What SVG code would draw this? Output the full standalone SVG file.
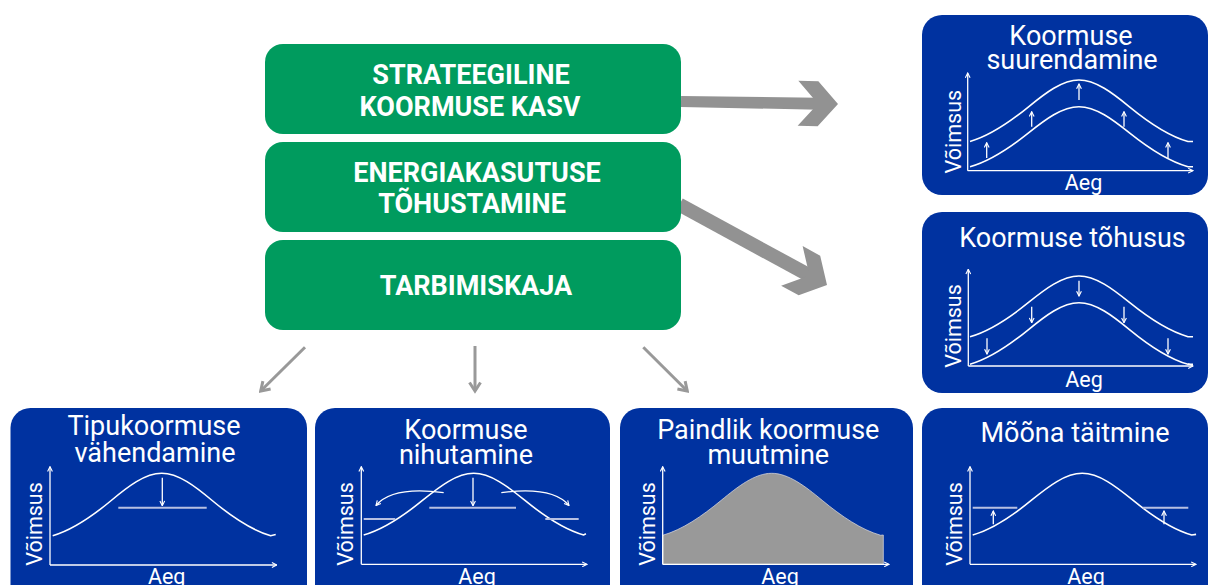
<svg xmlns="http://www.w3.org/2000/svg" width="1209" height="585" viewBox="0 0 1209 585">
<style>
.green{fill:#009b5e}
.blue{fill:#0032a0}
.gt{font-family:Roboto,"Liberation Sans",sans-serif;font-weight:bold;font-size:27px;fill:#fff;text-anchor:middle}
.tt{font-family:Roboto,"Liberation Sans",sans-serif;font-size:27px;fill:#fff;text-anchor:middle}
.ax{font-family:Roboto,"Liberation Sans",sans-serif;font-size:21.5px;fill:#fff;text-anchor:middle}
.axis{stroke:#fff;stroke-width:1.3;fill:none;marker-end:url(#wa)}
.curve{stroke:#fff;stroke-width:1.6;fill:none}
.lvl{stroke:#b7c0e2;stroke-width:2;fill:none}
.sm{stroke:#fff;stroke-width:1.3;fill:none;marker-end:url(#wa)}
.big{fill:#929292}
.thin{stroke:#999;stroke-width:3;fill:none;marker-end:url(#ga)}
</style>
<defs>
<marker id="wa" markerUnits="userSpaceOnUse" viewBox="0 0 6 6" refX="5.4" refY="3" markerWidth="6" markerHeight="6" orient="auto">
<path d="M0.6,0.6 L5.4,3 L0.6,5.4" fill="none" stroke="#fff" stroke-width="1.1"/>
</marker>
<marker id="ga" markerUnits="userSpaceOnUse" viewBox="0 0 14 14" refX="11.5" refY="7" markerWidth="14" markerHeight="14" orient="auto">
<path d="M3,1.5 L11.5,7 L3,12.5" fill="none" stroke="#999" stroke-width="3"/>
</marker>
</defs>

<g id="connectors">
<g transform="translate(838,104) rotate(0.9)">
<polygon class="big" points="-157,-5.5 -19,-6 -19,6 -157,5.5"/>
<polygon class="big" points="-40,-22.5 -20,-22.5 0,0 -20,22.5 -40,22.5 -20,0"/>
</g>
<g transform="translate(827,285) rotate(28.55)">
<polygon class="big" points="-168,-7 -19,-7 -19,7 -168,7"/>
<polygon class="big" points="-40,-22.5 -20,-22.5 0,0 -20,22.5 -40,22.5 -20,0"/>
</g>
<line class="thin" x1="305" y1="347.3" x2="260.7" y2="391"/>
<line class="thin" x1="475" y1="346" x2="475" y2="391"/>
<line class="thin" x1="643.3" y1="347.3" x2="687.3" y2="391"/>
</g>

<g id="n-strat">
<rect class="green" x="265" y="44" width="416" height="90" rx="18"/>
<text class="gt" x="471" y="84">STRATEEGILINE</text>
<text class="gt" x="470" y="116">KOORMUSE KASV</text>
</g>
<g id="n-energia">
<rect class="green" x="265" y="142" width="416" height="90" rx="18"/>
<text class="gt" x="477" y="181.7">ENERGIAKASUTUSE</text>
<text class="gt" x="472" y="213.3">TÕHUSTAMINE</text>
</g>
<g id="n-tarbimis">
<rect class="green" x="265" y="240" width="416" height="90" rx="18"/>
<text class="gt" x="476" y="295">TARBIMISKAJA</text>
</g>

<g id="n-suurendamine">
<rect class="blue" x="922" y="15" width="286" height="180" rx="20"/>
<text class="tt" x="1071" y="45">Koormuse</text>
<text class="tt" x="1072" y="69">suurendamine</text>
<path class="axis" d="M967.7,170.7 V73"/>
<path class="axis" d="M967.7,170.7 H1193"/>
<path class="curve" vector-effect="non-scaling-stroke" transform="translate(970,166.7) scale(109,-60)" d="M0,0 C.179,.09 .358,.304 .537,.564 C.691,.788 .846,1 1,1 C1.154,1 1.309,.788 1.463,.564 C1.642,.304 1.821,.09 2,0 L2.046,0"/>
<path class="curve" vector-effect="non-scaling-stroke" transform="translate(970,141.5) scale(109,-61.5)" d="M0,0 C.179,.09 .358,.304 .537,.564 C.691,.788 .846,1 1,1 C1.154,1 1.309,.788 1.463,.564 C1.642,.304 1.821,.09 2,0 L2.046,0"/>
<path class="sm" d="M986.7,158 V142.7"/>
<path class="sm" d="M1031.7,126.7 V111.7"/>
<path class="sm" d="M1079,100 V84"/>
<path class="sm" d="M1124,126.7 V111.7"/>
<path class="sm" d="M1168,158 V142.7"/>
<text class="ax" transform="translate(960.5,131.7) rotate(-90)">Võimsus</text>
<text class="ax" x="1083.5" y="190">Aeg</text>
</g>

<g id="n-tohusus">
<rect class="blue" x="922" y="212" width="286" height="181" rx="20"/>
<text class="tt" x="1072.5" y="247">Koormuse tõhusus</text>
<path class="axis" d="M968.3,366 V269.3"/>
<path class="axis" d="M968.3,366 H1193"/>
<path class="curve" vector-effect="non-scaling-stroke" transform="translate(970,336.7) scale(109,-60.7)" d="M0,0 C.179,.09 .358,.304 .537,.564 C.691,.788 .846,1 1,1 C1.154,1 1.309,.788 1.463,.564 C1.642,.304 1.821,.09 2,0 L2.046,0"/>
<path class="curve" vector-effect="non-scaling-stroke" transform="translate(970,364.3) scale(109,-61.6)" d="M0,0 C.179,.09 .358,.304 .537,.564 C.691,.788 .846,1 1,1 C1.154,1 1.309,.788 1.463,.564 C1.642,.304 1.821,.09 2,0 L2.046,0"/>
<path class="sm" d="M987,338.3 V354"/>
<path class="sm" d="M1031.7,306.7 V322.7"/>
<path class="sm" d="M1079,280.7 V296"/>
<path class="sm" d="M1124,306.7 V322.7"/>
<path class="sm" d="M1168,338.3 V354"/>
<text class="ax" transform="translate(960.5,326) rotate(-90)">Võimsus</text>
<text class="ax" x="1084" y="386.5">Aeg</text>
</g>

<g id="n-mona">
<rect class="blue" x="922" y="408" width="286" height="200" rx="20"/>
<text class="tt" x="1075" y="442">Mõõna täitmine</text>
<path class="axis" d="M970,564.3 V466.7"/>
<path class="axis" d="M970,564.3 H1196"/>
<path class="curve" vector-effect="non-scaling-stroke" transform="translate(972.7,535) scale(109.5,-61.7)" d="M0,0 C.179,.09 .358,.304 .537,.564 C.691,.788 .846,1 1,1 C1.154,1 1.309,.788 1.463,.564 C1.642,.304 1.821,.09 2,0 L2.04,0.01"/>
<path class="lvl" d="M972.7,507.7 H1017.3"/>
<path class="lvl" d="M1142.7,507.7 H1188.3"/>
<path class="sm" d="M993.3,524.3 V511"/>
<path class="sm" d="M1164,524.3 V511"/>
<text class="ax" transform="translate(962,524) rotate(-90)">Võimsus</text>
<text class="ax" x="1086" y="584">Aeg</text>
</g>

<g id="n-tipukoormus">
<rect class="blue" x="10.5" y="408" width="296.5" height="200" rx="20"/>
<text class="tt" x="154" y="435">Tipukoormuse</text>
<text class="tt" x="155" y="461.5">vähendamine</text>
<path class="axis" d="M50,565 V466.7"/>
<path class="axis" d="M50,565 H276.7"/>
<path class="curve" vector-effect="non-scaling-stroke" transform="translate(52.7,535.7) scale(109,-62.4)" d="M0,0 C.179,.09 .358,.304 .537,.564 C.691,.788 .846,1 1,1 C1.154,1 1.309,.788 1.463,.564 C1.642,.304 1.821,.09 2,0 L2.046,0.02"/>
<path class="lvl" d="M118.3,507.7 H206.7"/>
<path class="sm" d="M162.3,477.7 V505.7"/>
<text class="ax" transform="translate(42,524) rotate(-90)">Võimsus</text>
<text class="ax" x="166.7" y="584">Aeg</text>
</g>

<g id="n-nihutamine">
<rect class="blue" x="315" y="408" width="295" height="200" rx="20"/>
<text class="tt" x="466" y="439">Koormuse</text>
<text class="tt" x="466" y="464">nihutamine</text>
<path class="axis" d="M361.3,564.3 V466.7"/>
<path class="axis" d="M361.3,564.3 H587"/>
<path class="curve" vector-effect="non-scaling-stroke" transform="translate(363.7,535) scale(110,-61.7)" d="M0,0 C.179,.09 .358,.304 .537,.564 C.691,.788 .846,1 1,1 C1.154,1 1.309,.788 1.463,.564 C1.642,.304 1.821,.09 2,0 L2.02,0.02"/>
<path class="lvl" d="M429.3,507.7 H516"/>
<path class="lvl" d="M363.7,519 H395.3"/>
<path class="lvl" d="M545.3,519 H578.7"/>
<path class="sm" d="M473,477.7 V505.7"/>
<path class="sm" d="M443.7,492.7 C420,489.5 390,489 376,505.5"/>
<path class="sm" d="M501.3,492.7 C525,489.5 555,489 569,505.5"/>
<text class="ax" transform="translate(352.5,524) rotate(-90)">Võimsus</text>
<text class="ax" x="477" y="584">Aeg</text>
</g>

<g id="n-paindlik">
<rect class="blue" x="620" y="408" width="293" height="200" rx="20"/>
<text class="tt" x="768.3" y="439">Paindlik koormuse</text>
<text class="tt" x="768.3" y="464">muutmine</text>
<path d="M662.7,535.3 C682.2,529.72 701.7,516.45 721.2,500.33 C738,486.44 754.9,473.3 771.7,473.3 C788.5,473.3 805.4,486.44 822.2,500.33 C841.7,516.45 861.2,529.72 880.7,535.3 L883.3,535 L883.3,564.3 L662.7,564.3 Z" fill="#999" stroke="#d0d0d8" stroke-width="0.8"/>
<path class="axis" d="M662.7,564.3 V466.7"/>
<path class="axis" d="M662.7,564.3 H889"/>
<text class="ax" transform="translate(654.5,524) rotate(-90)">Võimsus</text>
<text class="ax" x="780" y="584">Aeg</text>
</g>
</svg>
